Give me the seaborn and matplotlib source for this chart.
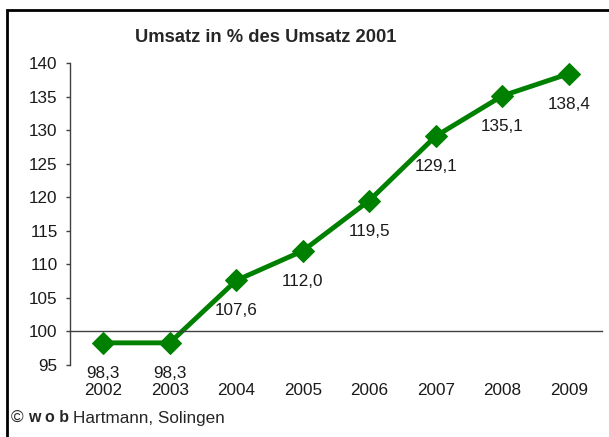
import matplotlib
matplotlib.use("Agg")
import matplotlib.pyplot as plt
import seaborn as sns
import pandas as pd
from matplotlib.patches import Rectangle

# values
years = ["2002", "2003", "2004", "2005", "2006", "2007", "2008", "2009"]
umsatz = [98.3, 98.3, 107.6, 112.0, 119.5, 129.1, 135.1, 138.4]
labels = ["98,3", "98,3", "107,6", "112,0", "119,5", "129,1", "135,1", "138,4"]
y_ticks = [95, 100, 105, 110, 115, 120, 125, 130, 135, 140]

df = pd.DataFrame({"Jahr": years, "Umsatz": umsatz})

sns.set_style("white")
plt.rcParams["font.family"] = ["Liberation Sans", "DejaVu Sans"]

fs = 12.3

fig = plt.figure(figsize=(6.09, 4.37), dpi=100)
ax = fig.add_axes([70 / 609, 1 - 365 / 437, 532 / 609, 302 / 437])

sns.lineplot(data=df, x="Jahr", y="Umsatz", ax=ax, color="#008000",
             linewidth=3.5, marker="D", markersize=11, markeredgecolor="#008000",
             sort=False)

for i, (v, lab) in enumerate(zip(umsatz, labels)):
    ax.annotate(lab, xy=(i, v), xytext=(0, -22), textcoords="offset points",
                ha="center", va="center", fontsize=fs, color="#1a1a1a")

ax.set_xlim(-0.5, len(years) - 0.5)
ax.set_ylim(95, 140)
ax.set_yticks(y_ticks)
ax.set_xlabel("")
ax.set_ylabel("")

# x axis line sits at 100, ticks between categories
ax.spines["top"].set_visible(False)
ax.spines["right"].set_visible(False)
ax.spines["bottom"].set_position(("data", 100))
for s in ["left", "bottom"]:
    ax.spines[s].set_color("#404040")
    ax.spines[s].set_linewidth(1)
ax.set_xticks([i - 0.5 for i in range(len(years) + 1)], minor=True)
ax.tick_params(axis="x", which="major", length=0, pad=37, labelsize=fs,
               labelcolor="#1a1a1a")
ax.tick_params(axis="x", which="minor", direction="out", length=3,
               color="#404040", width=1)
ax.tick_params(axis="y", direction="out", length=3, color="#404040",
               width=1, pad=6, labelsize=fs, labelcolor="#1a1a1a", left=True)

fig.text(266 / 609, 1 - 38 / 437, "Umsatz in % des Umsatz 2001",
         ha="center", va="center", fontsize=13.2, fontweight="bold")

# source line
t1 = fig.text(11 / 609, 1 - 418 / 437, "©", ha="left", va="center",
              fontsize=fs)
t2 = ax.annotate("w o b", xy=(1, 0.5), xycoords=t1, xytext=(3, 0),
                 textcoords="offset points", ha="left", va="center",
                 fontsize=11.5, fontweight="bold", annotation_clip=False)
ax.annotate("Hartmann, Solingen", xy=(1, 0.5), xycoords=t2, xytext=(3, 0),
            textcoords="offset points", ha="left", va="center",
            fontsize=fs, annotation_clip=False)

# frame around the chart
fig.patches.append(Rectangle((6.5 / 609, -0.1), 1.2, 1.1 - 9.5 / 437,
                             transform=fig.transFigure, fill=False,
                             edgecolor="black", linewidth=2))

fig.savefig("out.png", dpi=100)
